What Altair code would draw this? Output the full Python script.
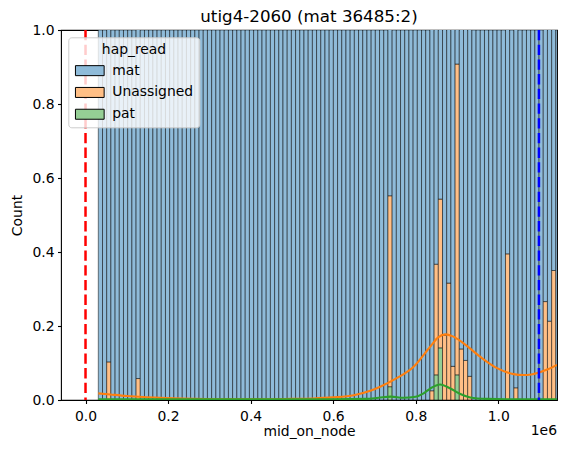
import altair as alt
import pandas as pd

TITLE = "utig4-2060 (mat 36485:2)"
hap_levels = ["mat", "Unassigned", "pat"]
hap_fill = ["#8fbbd9", "#ffbf86", "#95cf95"]
kde_levels = ["Unassigned", "pat"]
kde_colors = ["#ff7f0e", "#2ca02c"]

# histogram bins
bin_start = 31000.0
bin_width = 10170.0
n_bins = 110

# per-bin counts of the visible stack parts (mat bars all run past the axis top)
unassigned_bin = [2, 9, 69, 79, 80, 81, 82, 83, 84, 85, 86, 87, 88, 97, 99, 106, 107, 108]
unassigned_count = [0.103, 0.058, 0.516, 0.025, 0.299, 0.402, 0.175, 0.316, 0.091,
                    0.840, 0.138, 0.107, 0.064, 0.395, 0.033, 0.266, 0.213, 0.350]
pat_bin = [69, 80, 81, 85]
pat_count = [0.036, 0.068, 0.141, 0.068]
mat_count_offscale = 1.0

# KDE curves
kde_unassigned_x = [31000, 60000, 100000, 140000, 180000, 260000, 350000, 450000, 500000,
                    550000, 600000, 650000, 690000, 714000, 754000, 795000, 835000, 855000,
                    871500, 890000, 916000, 956000, 997000, 1037000, 1061000, 1080000,
                    1098000, 1120000, 1142000]
kde_unassigned_y = [0.018, 0.015, 0.011, 0.008, 0.006, 0.0035, 0.002, 0.002, 0.003,
                    0.004, 0.007, 0.013, 0.025, 0.036, 0.059, 0.090, 0.144, 0.170,
                    0.1775, 0.172, 0.153, 0.117, 0.086, 0.070, 0.0676, 0.069,
                    0.074, 0.083, 0.095]
kde_pat_x = [31000, 300000, 600000, 680000, 710000, 740000, 770000, 800000, 819000,
             835000, 859000, 884000, 908000, 932000, 973000, 1020000, 1142000]
kde_pat_y = [0.002, 0.002, 0.002, 0.003, 0.006, 0.009, 0.006, 0.009, 0.018,
             0.031, 0.042, 0.031, 0.016, 0.007, 0.003, 0.002, 0.002]

vline_x = [0.0, 1098500.0]
vline_colors = ["#ff0000", "#0000ff"]

x_domain = [-59400, 1142300]
x_ticks = [0, 200000, 400000, 600000, 800000, 1000000]
y_ticks = [0.0, 0.2, 0.4, 0.6, 0.8, 1.0]

# ---- build tables ----
ua = dict(zip(unassigned_bin, unassigned_count))
pa = dict(zip(pat_bin, pat_count))
rows = []
for k in range(n_bins):
    x0 = bin_start + k * bin_width
    x1 = x0 + bin_width
    base = 0.0
    for hap, cnt in (("pat", pa.get(k, 0.0)), ("Unassigned", ua.get(k, 0.0)),
                     ("mat", mat_count_offscale)):
        if cnt > 0:
            rows.append({"x0": x0, "x1": x1, "y0": base, "y1": base + cnt, "hap": hap})
            base += cnt
bars_df = pd.DataFrame(rows)

kde_df = pd.concat([
    pd.DataFrame({"x": kde_unassigned_x, "y": kde_unassigned_y, "grp": "Unassigned"}),
    pd.DataFrame({"x": kde_pat_x, "y": kde_pat_y, "grp": "pat"}),
])
vl_df = pd.DataFrame({"x": vline_x, "c": vline_colors})

FONT = "DejaVu Sans"
xscale = alt.Scale(domain=x_domain, nice=False, zero=False)
yscale = alt.Scale(domain=[0, 1], nice=False)

bars = alt.Chart(bars_df).mark_bar(
    clip=True, stroke="black", strokeOpacity=0.5, strokeWidth=1, opacity=1
).encode(
    x=alt.X("x0:Q", scale=xscale,
            axis=alt.Axis(values=x_ticks,
                          labelExpr="format(datum.value / 1000000, '.1f')",
                          title="mid_on_node", labelPadding=6,
                          titleX=248, titleY=35, titleBaseline="alphabetic",
                          titleAlign="center", titleAnchor="middle")),
    x2="x1:Q",
    y=alt.Y("y0:Q", scale=yscale,
            axis=alt.Axis(values=y_ticks, format=".1f", title="Count",
                          labelPadding=3.5, titleAngle=270, titleX=-39.3,
                          titleY=185, titleBaseline="alphabetic",
                          titleAlign="center", titleAnchor="middle")),
    y2="y1:Q",
    color=alt.Color("hap:N", scale=alt.Scale(domain=hap_levels, range=hap_fill),
                    legend=alt.Legend(
                        title="hap_read", orient="none", legendX=7.3, legendY=7.3,
                        symbolType="M-2.87,-1H2.87V1H-2.87Z", symbolSize=100,
                        symbolStrokeColor="black", symbolStrokeWidth=1,
                        symbolOpacity=1, symbolOffset=8.85, labelOffset=15.5,
                        padding=5.7, titlePadding=6.8, rowPadding=6.8,
                        fillColor="rgba(255,255,255,0.8)", strokeColor="#cccccc",
                        cornerRadius=3, titleAnchor="middle",
                        labelFontSize=13.9, titleFontSize=13.9, labelFont=FONT,
                        titleFont=FONT, titleFontWeight="normal",
                        labelColor="black", titleColor="black")),
)

kde = alt.Chart(kde_df).mark_line(clip=True, strokeWidth=2.1, interpolate="monotone").encode(
    x=alt.X("x:Q", scale=xscale),
    y=alt.Y("y:Q", scale=yscale),
    stroke=alt.Stroke("grp:N", scale=alt.Scale(domain=kde_levels, range=kde_colors),
                      legend=None),
    detail="grp:N",
)

vlines = alt.Chart(vl_df).mark_rule(strokeWidth=2.5, strokeDash=[10.3, 4.4]).encode(
    x=alt.X("x:Q", scale=xscale),
    stroke=alt.Stroke("c:N", scale=None, legend=None),
)

texts_df = pd.DataFrame({"t": ["1e6", TITLE], "kind": ["offset", "title"]})
offset_txt = alt.Chart(texts_df).transform_filter("datum.kind == 'offset'").mark_text(
    align="right", baseline="alphabetic", fontSize=13.9, font=FONT, color="black"
).encode(x=alt.value(496), y=alt.value(405), text="t:N")

title_txt = alt.Chart(texts_df).transform_filter("datum.kind == 'title'").mark_text(
    align="center", baseline="alphabetic", fontSize=16.7, font=FONT, color="black"
).encode(x=alt.value(248), y=alt.value(-8.3), text="t:N")

chart = alt.layer(bars, kde, vlines, offset_txt, title_txt).properties(
    width=496, height=370,
    autosize=alt.AutoSizeParams(type="none"),
    padding={"left": 61, "top": 30, "right": 10, "bottom": 53},
    background="white",
).configure_view(stroke="black", strokeWidth=1.1).configure_axis(
    labelFont=FONT, titleFont=FONT, labelFontSize=13.9, titleFontSize=13.9,
    titleFontWeight="normal", labelColor="black", titleColor="black",
    tickColor="black", tickSize=3.5, tickWidth=1.1, grid=False, domain=False,
)

chart.save("out.html", embed_options={"renderer": "svg", "actions": False})
